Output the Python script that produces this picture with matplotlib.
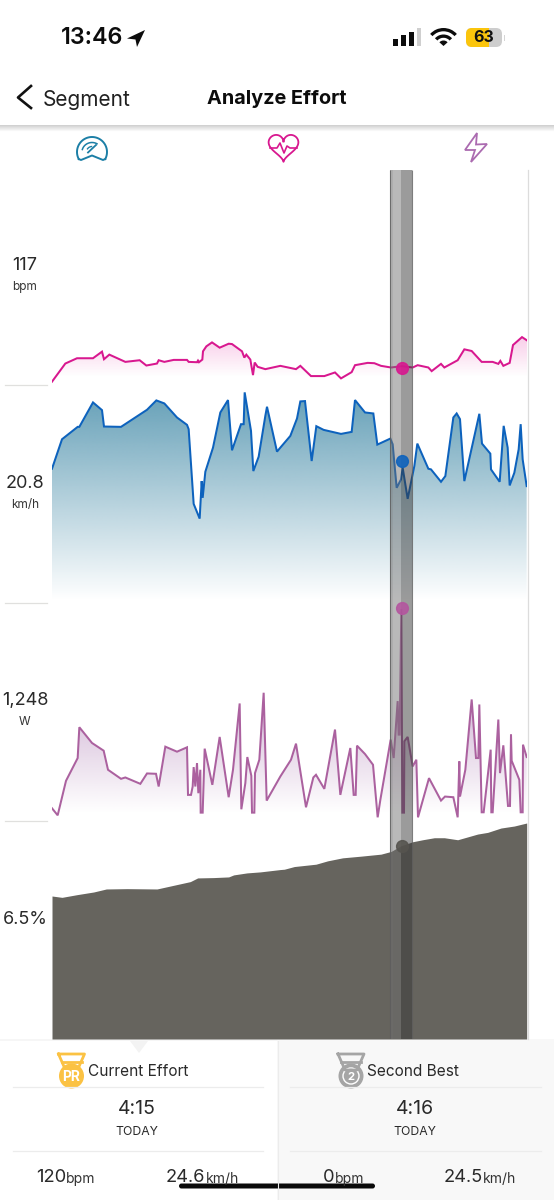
import numpy as np
import matplotlib
matplotlib.use("Agg")
import matplotlib.pyplot as plt
import matplotlib.transforms as mtrans
from matplotlib.colors import to_rgb
from matplotlib.patches import Circle, FancyBboxPatch, Polygon, Rectangle, Wedge

# Traces: x is position along the effort, y is height above the panel floor (both)
hr_x = [0,40,75,123,150,156,172,220,263,283,315,320,337,365,405,410,435,438,441,451,453,463,480,503,530,540,570,577,583,595,603,608,617,640,685,732,745,777,817,849,867,899,909,947,967,987,1017,1049,1082,1097,1129,1139,1167,1177,1217,1237,1259,1289,1322,1339,1345,1354,1373,1383,1410,1425]
hr_y = [10,65,81,81,101,78,92,70,75,59,65,75,70,76,76,70,69,74,69,77,102,117,129,113,125,124,102,83,92,77,30,68,55,48,58,48,58,27,27,38,20,39,60,67,66,58,53,57,53,60,53,42,64,53,75,108,103,70,70,64,73,58,67,121,145,135]
speed_x = [0,30,77,82,123,150,156,207,285,313,337,375,405,410,425,443,449,452,460,483,505,528,540,567,575,578,597,604,620,640,645,675,685,715,735,745,759,779,793,815,867,899,909,939,964,976,1015,1022,1034,1047,1052,1067,1087,1096,1129,1137,1167,1180,1204,1214,1224,1237,1282,1290,1315,1317,1343,1355,1367,1373,1387,1400,1406,1412,1424]
speed_y = [401,489,526,526,599,576,527,526,577,605,596,554,532,519,296,252,364,314,392,464,569,606,456,534,534,629,514,394,437,559,586,452,464,499,551,602,603,424,528,517,505,511,606,569,566,473,491,474,344,369,404,311,409,476,401,399,362,379,554,566,549,364,565,476,446,399,362,529,464,351,389,459,534,429,349]
power_x = [0,17,42,77,82,120,155,168,207,220,265,285,312,320,340,375,405,408,417,422,425,430,435,439,445,446,452,458,481,503,530,543,563,568,580,586,598,600,607,609,622,635,644,685,717,732,762,784,792,817,849,865,895,905,911,915,939,963,977,985,1016,1025,1037,1040,1043,1048,1051,1056,1057,1067,1082,1093,1098,1131,1167,1179,1204,1217,1222,1224,1240,1259,1272,1279,1282,1289,1295,1316,1318,1322,1339,1344,1354,1368,1374,1377,1379,1402,1406,1412,1413,1424]
power_y = [38,17,120,188,280,233,210,153,126,130,111,142,141,103,222,207,220,78,78,103,161,103,173,83,153,25,25,216,108,251,71,153,351,35,113,191,135,25,25,143,183,383,61,133,183,231,41,130,138,96,273,78,218,78,78,225,200,168,11,63,243,188,358,258,258,633,25,25,238,251,163,183,11,128,61,73,71,11,178,73,153,363,188,188,348,26,26,213,26,26,303,143,226,45,45,258,180,123,26,26,228,191]
elev_x = [0,30,75,125,163,225,315,365,415,437,485,530,545,585,625,685,697,727,792,827,872,927,987,1017,1047,1082,1112,1147,1177,1217,1277,1307,1347,1387,1424]
elev_y = [427,423,431,439,448,449,448,459,470,481,482,484,490,496,499,506,507,515,522,532,541,546,552,560,577,589,595,601,601,595,612,617,630,636,645]

hr_marker, speed_marker, power_marker, elev_marker = 57, 423, 636, 577
cursor_x = 1049

panel_labels = [("117", "bpm", 265, 287), ("20.8", "km/h", 483, 505),
                ("1,248", "W", 701, 722), ("6.5%", "", 919, 0)]
summary_left = ("Current Effort", "4:15", "TODAY", "120", "24.6")
summary_right = ("Second Best", "4:16", "TODAY", "0", "24.5")

plt.rcParams["font.family"] = ["Inter", "DejaVu Sans"]
W, H = 554, 1200
fig = plt.figure(figsize=(W / 100, H / 100), dpi=100, facecolor="white")

def panel_axes(x0, y_top, x1, y_bot, xlim, ylim, z=2):
    ax = fig.add_axes([x0 / W, 1 - y_bot / H, (x1 - x0) / W, (y_bot - y_top) / H], zorder=z)
    ax.set_xlim(*xlim); ax.set_ylim(*ylim); ax.axis("off"); ax.patch.set_alpha(0)
    return ax

def gradient_fill(ax, x, y, color, top_alpha, grad_top, grad_bot):
    poly = ax.fill_between(x, y, 0, color="none", lw=0)
    n = 651
    heights = np.linspace(651, 0, n)
    rgba = np.zeros((n, 1, 4)); rgba[..., :3] = to_rgb(color)
    rgba[:, 0, 3] = top_alpha * np.clip((heights - grad_bot) / (grad_top - grad_bot), 0, 1)
    im = ax.imshow(rgba, extent=(0, x[-1], 0, 651), aspect="auto", origin="upper",
                   interpolation="bilinear", zorder=1)
    im.set_clip_path(poly.get_paths()[0], ax.transData)
    ax.set_xlim(0, 1425); ax.set_ylim(0, 651)

panels = [(170, 385, hr_x, hr_y, "#d8188f", "#e63aa6", .22, 130, 25),
          (385, 603, speed_x, speed_y, "#0d62bd", "#4a8fab", .84, 620, 8),
          (603, 821, power_x, power_y, "#ab619f", "#a066a8", .36, 290, 25)]
for top_y, bot, x, y, lc, fc, a, gt, gb in panels:
    ax = panel_axes(52, top_y, 527, bot, (0, 1425), (0, 651))
    gradient_fill(ax, np.array(x), np.array(y), fc, a, gt, gb)
    ax.plot(x, y, color=lc, lw=1.45, solid_joinstyle="miter", zorder=3)
ax = panel_axes(52, 821, 527, 1039, (0, 1425), (0, 651))
ax.fill_between(elev_x, elev_y, 0, color="#66645e", lw=0)

# Selection band over the traces
band = panel_axes(52, 170, 527, 1039, (0, 1425), (869, 0), z=4)
band.add_patch(Rectangle((1014, 0), 33, 869, fc=(110/255,)*3, alpha=.48, lw=0))
band.add_patch(Rectangle((1014, 0), 10, 869, fc="#777777", alpha=.18, lw=0))
band.add_patch(Rectangle((1047, 0), 33, 869, fc=(56/255,)*3, alpha=.50, lw=0))
band.vlines([1014, 1080], 0, 869, color="#5c5c5c", lw=.8, alpha=.8)
for panel_top, h, col in [(0, hr_marker, "#d8188f"), (215, speed_marker, "#0d62bd"),
                          (433, power_marker, "#b4569f"), (651, elev_marker, "#56544f")]:
    yy = panel_top + 217 - h / 3
    band.plot([cursor_x], [yy], "o", ms=8.5, mfc=col, mec=col, alpha=.9, clip_on=False)

# Page furniture, drawn in pixel coordinates
ui = fig.add_axes([0, 0, 1, 1], zorder=1); ui.set_xlim(0, W); ui.set_ylim(H, 0); ui.axis("off")
top = fig.add_axes([0, 0, 1, 1], zorder=6); top.set_xlim(0, W); top.set_ylim(H, 0); top.axis("off"); top.patch.set_alpha(0)

for y in (385, 603, 821):
    ui.plot([5, 47], [y, y], color="#e0e0de", lw=.9)
ui.plot([527.5, 527.5], [170, 1039], color="#dcdcdc", lw=.9)
for lab, unit, y1, y2 in panel_labels:
    ui.text(25, y1, lab, ha="center", va="center", fontsize=13, color="#2a2a2a")
    if unit:
        ui.text(25, y2, unit, ha="center", va="center", fontsize=8.5, color="#333333")

# Status bar
top.text(61, 38.5, "13:46", ha="left", va="center", fontsize=16.8, fontweight="semibold", color="#0c0c0c")
top.add_patch(Polygon([(127, 38.5), (145, 30), (137, 47), (135.5, 39.5)], fc="#0c0c0c", lw=0))
for bx, h in zip([393.3, 401, 408.5], [6.3, 10.7, 14]):
    top.add_patch(Rectangle((bx, 45.7 - h), 5, h, fc="#0c0c0c", lw=0))
top.add_patch(Rectangle((417, 28.4), 3.7, 17.3, fc="#cfcfcf", lw=0))
top.add_patch(Wedge((443.5, 46), 18, 222, 318, width=3.3, fc="#0c0c0c", lw=0))
top.add_patch(Wedge((443.5, 46), 11.5, 222, 318, width=3.3, fc="#0c0c0c", lw=0))
top.add_patch(Wedge((443.5, 46), 5.5, 222, 318, fc="#0c0c0c", lw=0))
top.add_patch(FancyBboxPatch((466, 28), 36, 19, boxstyle="round,pad=0,rounding_size=6", fc="#cdcdcd", lw=0))
top.add_patch(FancyBboxPatch((466, 28), 23, 19, boxstyle="round,pad=0,rounding_size=6", fc="#fbc50c", lw=0))
top.add_patch(Rectangle((480, 28), 9, 19, fc="#fbc50c", lw=0))
top.add_patch(Rectangle((503.5, 34.5), 1.5, 6, fc="#d5d5d5", lw=0))
top.text(483.5, 38, "63", ha="center", va="center", fontsize=11.5, fontweight="bold", color="#111111")

# Navigation header
top.plot([31, 18, 31], [86, 97.5, 108], color="#111111", lw=1.9)
top.text(43, 99.5, "Segment", ha="left", va="center", fontsize=15, color="#202020")
top.text(276.5, 99.5, "Analyze Effort", ha="center", va="center", fontsize=14.3, fontweight="bold", color="#0c0c0c")
shadow = np.linspace(.82, 1, 8)[:, None]
ui.imshow(shadow, extent=(0, W, 132, 125.5), cmap="gray", vmin=0, vmax=1, aspect="auto", zorder=0)
ui.set_xlim(0, W); ui.set_ylim(H, 0)

# Gauge icon
c = "#1c7fa6"
t = np.radians(np.linspace(-28, 208, 60))
gx = 92 + 15 * np.cos(t); gy = 152 - 15 * np.sin(t)
top.plot(np.r_[gx, 92 + 10.5], np.r_[gy, 157.5], color=c, lw=0)
top.plot(gx, gy, color=c, lw=1.4)
bt = np.radians(np.linspace(-28, 208, 3))
top.plot([gx[0], 103, 92, 81, gx[-1]], [gy[0], 160, 155.5, 160, gy[-1]], color=c, lw=1.4)
t3 = np.radians(np.linspace(60, 165, 20))
top.plot(92 + 10 * np.cos(t3), 152 - 9.5 * np.sin(t3), color=c, lw=1.1)
t4 = np.radians(np.linspace(95, 145, 12))
top.plot(92 + 5.5 * np.cos(t4), 152 - 5.5 * np.sin(t4), color=c, lw=1.0)
top.plot([88, 96], [152.5, 145], color=c, lw=1.3)

# Heart icon
c = "#d8188f"
s = np.linspace(0, 2 * np.pi, 100)
hx = 283.5 + 0.93 * 16 * np.sin(s) ** 3
hy = 146 - 0.93 * (13 * np.cos(s) - 5 * np.cos(2 * s) - 2 * np.cos(3 * s) - np.cos(4 * s))
top.plot(hx, hy, color=c, lw=1.3)
top.plot([270, 277, 280, 284, 287, 290, 297], [148, 148, 143, 153, 146, 148, 148], color=c, lw=1.2)

# Bolt icon
top.add_patch(Polygon([(477, 133), (465, 150), (475, 150), (471, 162), (487, 144), (476, 144.5)],
                      fill=False, ec="#ab6bb0", lw=1.3))

# Summary cards
ui.add_patch(Rectangle((277, 1039), 277, 161, fc="#f8f8f8", lw=0))
ui.add_patch(Rectangle((0, 1039), 277, 1.5, fc="#f6f6f6", lw=0))
ui.add_patch(Polygon([(130, 1041), (148, 1041), (139, 1053)], fc="#f3f3f3", lw=0))
top.plot([277.5, 277.5], [1041, 1200], color="#ececec", lw=.8)
for a, b in [(13, 263), (290, 541)]:
    for y in (1087, 1151):
        top.plot([a, b], [y, y], color="#ececec", lw=.9)

def medal(cx, cy, color):
    top.plot([cx - 13, cx - 6, cx + 6, cx + 13, cx + 8, cx - 8, cx - 13],
             [cy - 17, cy - 1, cy - 1, cy - 17, cy - 17, cy - 17, cy - 17], color=color, lw=2)
    top.plot([cx - 10, cx + 10], [cy - 9, cy - 9], color=color, lw=2)

medal(71.5, 1071, "#fbc243")
top.add_patch(Circle((71.5, 1076), 12.5, fc="#fbc243", ec="none"))
top.text(71.5, 1077, "PR", ha="center", va="center", fontsize=10, fontweight="bold", color="white")
medal(351, 1071, "#a5a5a5")
top.add_patch(Circle((351, 1076), 12.5, fc="#a5a5a5", ec="none"))
top.add_patch(Circle((351, 1076), 8, fc="#a5a5a5", ec="white", lw=1))
top.text(351, 1076.5, "2", ha="center", va="center", fontsize=8, fontweight="bold", color="white")

blend = mtrans.blended_transform_factory(mtrans.IdentityTransform(), top.transData)
for (name, t_val, day, hr, sp), cx, name_x, x1, x2 in [
        (summary_left, 137, 88, 36, 166), (summary_right, 414.5, 367, 323, 444)]:
    top.text(name_x, 1071, name, ha="left", va="center", fontsize=11.1, color="#2a2a2a")
    top.text(cx, 1109, t_val, ha="center", va="center", fontsize=14, color="#2a2a2a")
    top.text(cx, 1132, day, ha="center", va="center", fontsize=8.8, color="#2a2a2a")
    a = top.text(x1, 1178, hr, ha="left", va="center", fontsize=13.2, color="#2a2a2a")
    b = top.text(x2, 1178, sp, ha="left", va="center", fontsize=13.2, color="#2a2a2a")
    fig.canvas.draw()
    r = fig.canvas.get_renderer()
    top.text(a.get_window_extent(r).x1, 1179, "bpm", ha="left", va="center", fontsize=10, color="#333333", transform=blend)
    top.text(b.get_window_extent(r).x1, 1179, "km/h", ha="left", va="center", fontsize=10, color="#333333", transform=blend)

# Home indicator
top.add_patch(FancyBboxPatch((179, 1183.5), 196, 5, boxstyle="round,pad=0,rounding_size=2.5", fc="#0a0a0a", lw=0))

fig.savefig("out.png", dpi=100)
